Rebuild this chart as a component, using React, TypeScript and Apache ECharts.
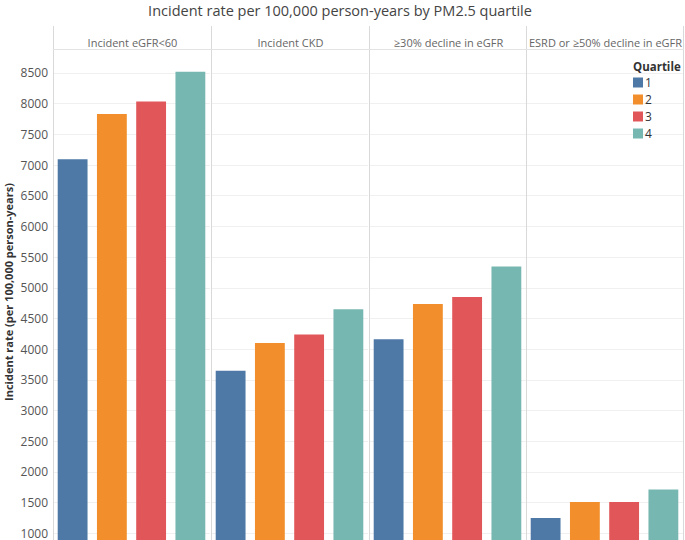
import React, { useEffect, useRef } from "react";
import * as echarts from "echarts";

const quartiles = ["1", "2", "3", "4"];
const outcomes = [
  "Incident eGFR<60",
  "Incident CKD",
  "≥30% decline in eGFR",
  "ESRD or ≥50% decline in eGFR",
];
// values per outcome, per quartile
const quartile1 = [7095, 3650, 4160, 1250];
const quartile2 = [7830, 4100, 4735, 1510];
const quartile3 = [8035, 4240, 4850, 1510];
const quartile4 = [8520, 4650, 5345, 1715];
const yTicks = { min: 500, max: 8890, interval: 500 };

const colors = ["#4e79a7", "#f28e2b", "#e15759", "#76b7b2"];
const FONT = "'Open Sans', 'Noto Sans', sans-serif";

export default function App() {
  const ref = useRef<HTMLDivElement>(null);
  useEffect(() => {
    if (!ref.current) return;
    const chart = echarts.init(ref.current, undefined, { renderer: "svg" });
    const byQuartile = [quartile1, quartile2, quartile3, quartile4];
    const panelLeft = [53, 211, 369, 526];
    const panelW = 157;
    const grids = panelLeft.map((l) => ({
      left: l,
      width: panelW,
      top: 49,
      bottom: 0,
    }));
    const xAxes = panelLeft.map((_, i) => ({
      type: "category",
      gridIndex: i,
      data: quartiles,
      axisLine: { show: false },
      axisTick: { show: false },
      axisLabel: { show: false },
    }));
    const yAxes = panelLeft.map((_, i) => ({
      type: "value",
      gridIndex: i,
      min: yTicks.min,
      max: yTicks.max,
      interval: yTicks.interval,
      axisLine: { show: false },
      axisTick: { show: false },
      axisLabel: {
        show: i === 0,
        showMaxLabel: false,
        showMinLabel: false,
        color: "#555",
        fontSize: 12,
        lineHeight: 12,
        fontFamily: FONT,
        margin: 5,
        formatter: (v: number) => String(v),
      },
      splitLine: { show: true, lineStyle: { color: "#f0f0f0", width: 1 } },
    }));
    const series: any[] = [];
    outcomes.forEach((_, p) => {
      quartiles.forEach((q, qi) => {
        series.push({
          type: "bar",
          name: q,
          xAxisIndex: p,
          yAxisIndex: p,
          barGap: "-100%",
          barCategoryGap: "24%",
          itemStyle: { color: colors[qi] },
          data: quartiles.map((_, ci) => (ci === qi ? byQuartile[qi][p] : "-")),
        });
      });
    });
    const graphics: any[] = [];
    [53, 211, 369, 526, 683].forEach((x) => {
      graphics.push({
        type: "line",
        shape: { x1: x + 0.5, y1: 26, x2: x + 0.5, y2: 564 },
        style: { stroke: "#d9d9d9", lineWidth: 1 },
        z: 10,
      });
    });
    graphics.push({
      type: "line",
      shape: { x1: 53, y1: 49.5, x2: 684, y2: 49.5 },
      style: { stroke: "#e3e3e3", lineWidth: 1 },
      z: 10,
    });
    outcomes.forEach((o, p) => {
      graphics.push({
        type: "text",
        x: panelLeft[p] + panelW / 2 + 1,
        y: 42,
        style: {
          text: o,
          fill: "#666",
          fontSize: 11,
          fontFamily: FONT,
          textAlign: "center",
          textVerticalAlign: "middle",
        },
      });
    });
    graphics.push({
      type: "text",
      x: 340,
      y: 10,
      style: {
        text: "Incident rate per 100,000 person-years by PM2.5 quartile",
        fill: "#444",
        fontSize: 14.5,
        fontFamily: FONT,
        textAlign: "center",
        textVerticalAlign: "middle",
      },
    });
    graphics.push({
      type: "text",
      x: 8,
      y: 292,
      rotation: Math.PI / 2,
      style: {
        text: "Incident rate (per 100,000 person-years)",
        fill: "#333",
        fontSize: 11,
        fontWeight: "bold",
        fontFamily: FONT,
        textAlign: "center",
        textVerticalAlign: "middle",
      },
    });
    graphics.push({
      type: "text",
      x: 633,
      y: 66,
      style: {
        text: "Quartile",
        fill: "#333",
        fontSize: 11.5,
        fontWeight: "bold",
        fontFamily: FONT,
        textAlign: "left",
        textVerticalAlign: "middle",
      },
    });
    chart.setOption({
      animation: false,
      grid: grids,
      xAxis: xAxes,
      yAxis: yAxes,
      series,
      legend: {
        data: quartiles,
        orient: "vertical",
        left: 633,
        top: 76.5,
        itemWidth: 10,
        itemHeight: 10,
        itemGap: 5,
        icon: "rect",
        textStyle: { color: "#333", fontSize: 12, fontFamily: FONT, padding: [0, 0, 0, -3] },
        padding: 0,
        selectedMode: false,
      },
      graphic: graphics,
    });
    return () => chart.dispose();
  }, []);
  return (
    <div
      ref={ref}
      style={{ position: "fixed", left: 0, top: 0, width: 685, height: 564, background: "#fff" }}
    />
  );
}
